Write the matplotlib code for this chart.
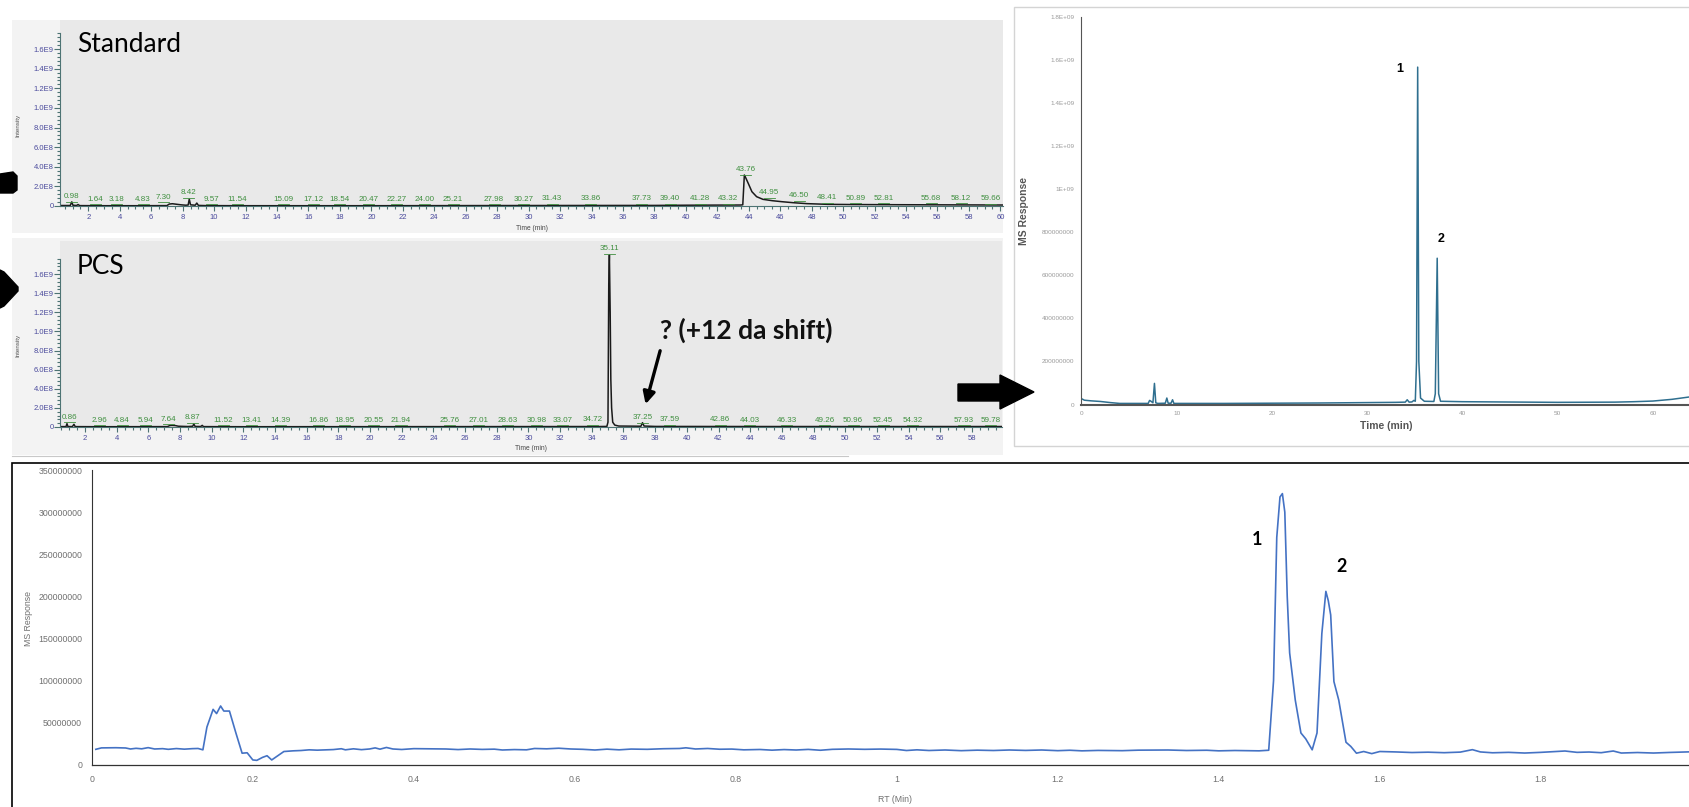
import numpy as np
import matplotlib
matplotlib.use("Agg")
import matplotlib.pyplot as plt
from matplotlib.patches import Rectangle, Polygon
from matplotlib.ticker import MultipleLocator, AutoMinorLocator, FuncFormatter, FixedLocator

# ---------------- data ----------------
# Standard TIC (time in min, intensity in 1e8)
std_t = [0.2, 0.85, 0.95, 1.02, 1.25, 1.35, 1.45, 3, 5, 7.0, 7.15, 7.35, 7.6, 7.9, 8.2,
         8.35, 8.42, 8.5, 8.8, 8.9, 9.0, 9.5, 12, 20, 30, 38, 40, 43.5, 43.62, 43.72,
         43.8, 43.97, 44.2, 44.5, 44.9, 45.5, 46.1, 46.8, 47.7, 49, 50.5, 53.7, 56, 60.2]
std_i = [0.05, 0.05, 0.42, 0.08, 0.05, 0.15, 0.04, 0.03, 0.03, 0.04, 0.2, 0.23, 0.18, 0.12, 0.08,
         0.1, 0.7, 0.12, 0.08, 0.3, 0.06, 0.04, 0.03, 0.03, 0.05, 0.06, 0.08, 0.1, 0.12, 3.16,
         2.9, 2.3, 1.46, 0.95, 0.68, 0.54, 0.44, 0.34, 0.24, 0.17, 0.15, 0.13, 0.12, 0.1]
std_peaks = ["0.98", "1.64", "3.18", "4.83", "7.30", "8.42", "9.57", "11.54", "15.09", "17.12",
             "18.54", "20.47", "22.27", "24.00", "25.21", "27.98", "30.27", "31.43", "33.86",
             "37.73", "39.40", "41.28", "43.32", "43.76", "44.95", "46.50", "48.41", "50.89",
             "52.81", "55.68", "58.12", "59.66"]

# PCS TIC (time in min, intensity in 1e8)
pcs_t = [0.42, 0.8, 0.86, 0.92, 1.2, 1.3, 1.38, 3, 7.2, 7.35, 7.5, 7.7, 7.9, 8.5, 8.8, 8.87,
         8.95, 9.3, 9.4, 9.48, 12, 25, 34.5, 34.95, 35.02, 35.07, 35.11, 35.16, 35.2, 35.25,
         35.32, 35.45, 35.7, 37.1, 37.2, 37.3, 38, 45, 59.9]
pcs_i = [0.04, 0.04, 0.35, 0.05, 0.04, 0.28, 0.04, 0.03, 0.04, 0.15, 0.17, 0.15, 0.08, 0.05, 0.08, 0.31,
         0.06, 0.05, 0.17, 0.04, 0.03, 0.04, 0.05, 0.06, 0.5, 15, 18.0, 12, 5, 2.0,
         0.5, 0.2, 0.1, 0.08, 0.45, 0.1, 0.06, 0.05, 0.05]
pcs_peaks = ["0.86", "2.96", "4.84", "5.94", "7.64", "8.87", "11.52", "13.41", "14.39", "16.86",
             "18.95", "20.55", "21.94", "25.76", "27.01", "28.63", "30.98", "33.07", "34.72",
             "35.11", "37.25", "37.59", "42.86", "44.03", "46.33", "49.26", "50.96", "52.45",
             "54.32", "57.93", "59.78"]

# full run, MS response (time in min, response in 1e7)
run_t = [0, 0.3, 1, 2, 3, 4, 7.0, 7.15, 7.3, 7.5, 7.66, 7.8, 8.0, 8.8, 8.96, 9.1, 9.4, 9.56,
         9.7, 15, 25, 33, 34.0, 34.2, 34.4, 34.7, 34.9, 35.05, 35.18, 35.3, 35.42, 35.6, 36,
         37.0, 37.15, 37.35, 37.5, 37.7, 40, 50, 56, 58, 60, 62, 64]
run_i = [2.7, 2.0, 1.7, 1.4, 0.9, 0.5, 0.5, 1.9, 1.5, 0.8, 9.8, 0.8, 0.5, 0.6, 3.0, 0.6, 0.6, 2.2,
         0.5, 0.5, 0.7, 1.0, 1.1, 2.2, 1.1, 1.2, 1.9, 1.5, 20, 156.6, 20, 3, 1.5,
         1.4, 5, 67.9, 5, 1.5, 1.3, 1.0, 1.1, 1.3, 1.6, 2.4, 3.6]

# fast run, MS response (RT in min, response in 1e6)
rt = [0.005, 0.012, 0.03, 0.042, 0.048, 0.055, 0.062, 0.07, 0.078, 0.088, 0.095, 0.105, 0.115,
      0.125, 0.132, 0.138, 0.143, 0.1507, 0.155, 0.16, 0.164, 0.171, 0.179, 0.1867, 0.193, 0.2,
      0.205, 0.212, 0.2177, 0.2235, 0.231, 0.2386, 0.25, 0.26, 0.27, 0.28, 0.29, 0.30, 0.31,
      0.315, 0.325, 0.335, 0.345, 0.352, 0.358, 0.366, 0.374, 0.385, 0.40, 0.42, 0.44, 0.455,
      0.47, 0.485, 0.50, 0.51, 0.525, 0.54, 0.55, 0.565, 0.58, 0.595, 0.61, 0.625, 0.64, 0.655,
      0.67, 0.69, 0.71, 0.73, 0.738, 0.75, 0.765, 0.78, 0.795, 0.81, 0.83, 0.845, 0.86, 0.875,
      0.89, 0.905, 0.92, 0.94, 0.96, 0.98, 1.0, 1.012, 1.025, 1.04, 1.06, 1.08, 1.10, 1.12,
      1.14, 1.16, 1.18, 1.2, 1.215, 1.23, 1.25, 1.28, 1.30, 1.337, 1.36, 1.385, 1.40, 1.42,
      1.45, 1.462, 1.468, 1.472, 1.476, 1.479, 1.482, 1.485, 1.488, 1.495, 1.502, 1.508, 1.516,
      1.522, 1.528, 1.533, 1.536, 1.539, 1.543, 1.549, 1.558, 1.564, 1.571, 1.58, 1.59, 1.60,
      1.62, 1.64, 1.66, 1.68, 1.70, 1.715, 1.725, 1.74, 1.76, 1.78, 1.80, 1.83, 1.845, 1.86,
      1.875, 1.89, 1.90, 1.92, 1.94, 1.96, 1.985]
resp = [18.6, 20.3, 20.5, 20.2, 19.0, 19.8, 19.2, 20.6, 19.0, 19.4, 18.6, 19.5, 18.8,
        19.4, 19.6, 18.0, 45, 66, 61, 70, 64, 64, 38, 14, 14.5, 6,
        5.5, 9, 11, 6, 11, 16, 16.8, 17.2, 18.0, 17.6, 18.0, 18.3, 19.3,
        18.0, 19.2, 18.2, 19.0, 20.3, 18.8, 20.8, 19.0, 18.4, 19.4, 19.2, 19.0, 18.3,
        19.0, 18.5, 18.8, 17.8, 18.3, 18.0, 19.6, 19.2, 19.9, 19.0, 18.6, 17.8, 18.8, 18.0,
        18.9, 18.6, 19.3, 19.6, 20.4, 19.0, 19.6, 18.7, 18.9, 18.0, 18.4, 17.6, 18.3, 17.8,
        18.5, 17.5, 18.6, 19.0, 18.6, 18.9, 18.5, 17.2, 18.0, 17.2, 17.8, 17.0, 17.6, 17.2,
        17.8, 17.3, 17.8, 17.0, 17.5, 16.8, 17.3, 17.0, 17.6, 17.8, 17.2, 17.5, 16.8, 17.2,
        16.8, 17.5, 100, 270, 318, 322, 300, 200, 133, 77, 38, 31, 18,
        38, 156, 206, 195, 178, 99, 77, 27, 22, 14, 16, 13.5, 16,
        15.5, 14.8, 15.2, 14.6, 15.3, 18.2, 15.5, 14.5, 15.0, 14.2, 15.0, 16.6, 15.0, 15.4,
        14.6, 16.6, 14.2, 14.8, 14.2, 14.9, 15.6]

run_ylabels = ["0", "200000000", "400000000", "600000000", "800000000", "1E+09",
               "1.2E+09", "1.4E+09", "1.6E+09", "1.8E+09"]
rt_ticks = [0, 0.2, 0.4, 0.6, 0.8, 1.0, 1.2, 1.4, 1.6, 1.8]

# ---------------- layout helpers (pixel positions in the 1690x807 canvas) ----------------
W, H = 1690, 807
fig = plt.figure(figsize=(W / 100, H / 100), dpi=100)
fig.patch.set_facecolor("white")


def fx(x):
    return x / W


def fy(y):
    return 1 - y / H


def box(l, t, r, b):
    return [fx(l), fy(b), (r - l) / W, (b - t) / H]


# label centres as placed by the instrument software (minutes)
std_label_x = [0.92, 2.44, 3.82, 5.48, 6.8, 8.37, 9.86, 11.5, 14.4, 16.3, 18.0, 19.8, 21.6,
               23.4, 25.2, 27.8, 29.7, 31.5, 33.95, 37.2, 39.0, 40.9, 42.7, 43.8, 45.3, 47.2,
               49.0, 50.8, 52.6, 55.6, 57.5, 59.4]
pcs_label_x = [1.01, 2.9, 4.34, 5.79, 7.26, 8.8, 10.73, 12.54, 14.35, 16.73, 18.41, 20.2,
               21.95, 25.04, 26.87, 28.68, 30.5, 32.16, 34.05, 35.1, 37.2, 38.9, 42.1, 43.97,
               46.3, 48.7, 50.5, 52.4, 54.25, 57.5, 59.2]

spine_c = "#4d7373"
tick_c = "#4a4a9c"
green = "#3f8f3f"
tick_font = "Liberation Sans"

# panel backgrounds
for (l, t, r, b) in [(12, 20, 1003, 233), (12, 238, 1003, 455)]:
    fig.patches.append(Rectangle((fx(l), fy(b)), (r - l) / W, (b - t) / H,
                                 transform=fig.transFigure, facecolor="#f3f3f3",
                                 edgecolor="none", zorder=-2))
fig.add_artist(plt.Line2D([fx(12), fx(848)], [fy(456), fy(456)], color="#c8c8c8", lw=0.8))


def sci_fmt(v, pos):
    if v == 0:
        return "0"
    m, e = f"{v:.1E}".split("E")
    return f"{m}E{int(e)}"


def tic_panel(rect, t, i, peaks, label_x, xlim, ylim):
    ax = fig.add_axes(rect)
    ax.set_facecolor("#e9e9e9")
    t = np.array(t)
    i = np.array(i) * 1e8
    ax.plot(t, i, color="#1a1a1a", lw=1.1)
    ax.set_xlim(*xlim)
    ax.set_ylim(*ylim)
    for s in ["top", "right"]:
        ax.spines[s].set_visible(False)
    ax.spines["left"].set_color(spine_c)
    ax.spines["bottom"].set_color(spine_c)
    ax.spines["left"].set_bounds(0, 1.76e9)
    ax.xaxis.set_major_locator(MultipleLocator(2))
    ax.xaxis.set_minor_locator(MultipleLocator(0.5))
    ax.yaxis.set_major_locator(FixedLocator(np.arange(0, 1.61e9, 2e8)))
    ax.yaxis.set_minor_locator(FixedLocator(np.arange(0, 1.77e9, 4e7)))
    ax.yaxis.set_major_formatter(FuncFormatter(sci_fmt))
    ax.tick_params(which="both", colors=spine_c, labelcolor=tick_c, labelsize=5.5, width=0.8)
    ax.tick_params(axis="x", which="major", length=3.5, pad=2)
    ax.tick_params(axis="x", which="minor", length=2)
    ax.tick_params(axis="y", which="major", length=4, pad=0.5)
    ax.tick_params(axis="y", which="minor", length=2)
    for lab in ax.get_xticklabels() + ax.get_yticklabels():
        lab.set_family(tick_font)
    for txt, lx in zip(peaks, label_x):
        v = np.interp(float(txt), t, i)
        ax.annotate(txt, xy=(lx, v), xytext=(0, 3), textcoords="offset pixels",
                    ha="center", va="bottom", color=green, fontsize=5.8,
                    family=tick_font)
        ax.plot([lx - 0.35, lx + 0.35], [v + 0.15e8, v + 0.15e8], color=green, lw=0.6)
    return ax


ax1 = tic_panel(box(60, 20, 1003.5, 206), std_t, std_i, std_peaks, std_label_x,
                (0.2, 60.2), (0, 1.896e9))
ax2 = tic_panel(box(60, 241, 1002, 427), pcs_t, pcs_i, pcs_peaks, pcs_label_x,
                (0.42, 59.9), (0, 1.946e9))

for (x, y) in [(18, 125), (18, 345)]:
    fig.text(fx(x), fy(y), "Intensity", rotation=90, ha="center", va="center",
             fontsize=4.5, color="#555555", family=tick_font)
for (x, y) in [(532, 228), (531, 449)]:
    fig.text(fx(x), fy(y), "Time (min)", ha="center", va="center",
             fontsize=4.8, color="#444444", family=tick_font)

fig.text(fx(77), fy(45), "Standard", ha="left", va="center", fontsize=19,
         family="Lato", color="black")
fig.text(fx(77), fy(267), "PCS", ha="left", va="center", fontsize=19,
         family="Lato", color="black")

# question mark annotation on PCS
ax2.annotate("", xy=(37.35, 0.21e9), xytext=(38.36, 0.826e9),
             arrowprops=dict(arrowstyle="-|>", color="black", lw=2.4, mutation_scale=18))
fig.text(fx(746), fy(330), "? (+12 da shift)", ha="center", va="center",
         fontsize=19, fontweight="bold", family="Lato", color="#111111")

# ---------------- right panel: full run ----------------
fig.patches.append(Rectangle((fx(1014.5), fy(446)), (700) / W, (446 - 7.3) / H,
                             transform=fig.transFigure, facecolor="white",
                             edgecolor="#d4d4d4", lw=1.0, zorder=-2))
ax3 = fig.add_axes(box(1081.5, 16.7, 1691, 404.5))
ax3.set_facecolor("none")
ax3.plot(run_t, np.array(run_i) * 1e7, color="#2f6f8f", lw=1.1)
ax3.set_xlim(0, 64)
ax3.set_ylim(0, 1.8e9)
for s in ["top", "right"]:
    ax3.spines[s].set_visible(False)
ax3.spines["left"].set_color("#555555")
ax3.spines["bottom"].set_color("#555555")
ax3.spines["bottom"].set_linewidth(1.5)
ax3.xaxis.set_major_locator(MultipleLocator(10))
ax3.set_yticks(np.arange(0, 1.81e9, 2e8))
ax3.set_yticklabels(run_ylabels)
ax3.tick_params(length=0, labelsize=4.6, labelcolor="#9a9a9a", pad=5)
for lab in ax3.get_xticklabels() + ax3.get_yticklabels():
    lab.set_family(tick_font)
ax3.set_xlabel("Time (min)", fontsize=7.5, fontweight="bold", color="#555555",
               family=tick_font, labelpad=3)
ax3.set_ylabel("MS Response", fontsize=7.5, fontweight="bold", color="#555555",
               family=tick_font, labelpad=9)
ax3.text(33.4, 1.557e9, "1", fontsize=9, fontweight="bold", ha="center", va="center",
         family=tick_font)
ax3.text(37.8, 7.68e8, "2", fontsize=9, fontweight="bold", ha="center", va="center",
         family=tick_font)

# ---------------- bottom panel: fast run ----------------
fig.patches.append(Rectangle((fx(11.8), fy(830)), (1720 - 11.8) / W, (830 - 463.3) / H,
                             transform=fig.transFigure, facecolor="none",
                             edgecolor="black", lw=1.2, zorder=-1))
ax4 = fig.add_axes(box(91.8, 470, 1701.8, 765))
ax4.set_facecolor("none")
ax4.plot(rt, np.array(resp) * 1e6, color="#4472c4", lw=1.2)
ax4.set_xlim(0, 2)
ax4.set_ylim(0, 3.5e8)
for s in ["top", "right"]:
    ax4.spines[s].set_visible(False)
ax4.spines["left"].set_color("#333333")
ax4.spines["bottom"].set_color("#333333")
ax4.spines["left"].set_linewidth(0.8)
ax4.spines["bottom"].set_linewidth(0.9)
ax4.xaxis.set_major_locator(FixedLocator(rt_ticks))
ax4.yaxis.set_major_locator(MultipleLocator(5e7))
ax4.xaxis.set_major_formatter(FuncFormatter(lambda v, p: f"{v:.1f}".rstrip("0").rstrip(".") if v else "0"))
ax4.yaxis.set_major_formatter(FuncFormatter(lambda v, p: f"{int(round(v))}"))
ax4.tick_params(length=0, labelsize=6.3, labelcolor="#707070", pad=7)
for lab in ax4.get_xticklabels() + ax4.get_yticklabels():
    lab.set_family(tick_font)
fig.text(fx(28.6), fy(618), "MS Response", rotation=90, ha="center", va="center",
         fontsize=6.3, color="#707070", family=tick_font)
fig.text(fx(895), fy(800), "RT (Min)", ha="center", va="center",
         fontsize=6.3, color="#707070", family=tick_font)
ax4.text(1.447, 2.67e8, "1", fontsize=13, fontweight="bold", ha="center", va="center",
         family="Lato")
ax4.text(1.553, 2.36e8, "2", fontsize=13, fontweight="bold", ha="center", va="center",
         family="Lato")

# ---------------- decorative arrows from the slide ----------------
shapes = [
    [(958, 384), (1000, 384), (1000, 375), (1034, 392), (1000, 409), (1000, 401), (958, 401)],
    [(0, 174), (13, 172), (17, 176), (17, 190), (13, 193), (0, 193)],
    [(0, 270), (4, 272), (18, 287), (18, 291), (4, 306), (0, 308)],
]
for pts in shapes:
    fig.patches.append(Polygon([(fx(x), fy(y)) for x, y in pts], closed=True,
                               transform=fig.transFigure, facecolor="black",
                               edgecolor="black", zorder=5))

fig.savefig("out.png", dpi=100)
